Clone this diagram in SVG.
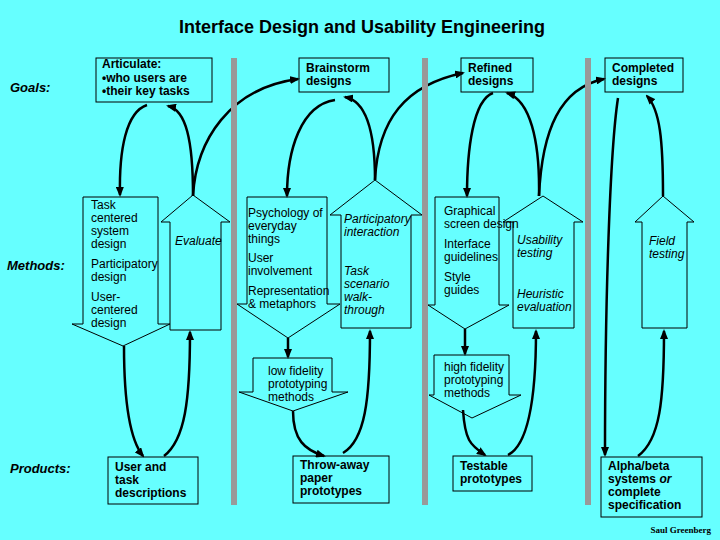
<svg xmlns="http://www.w3.org/2000/svg" width="720" height="540" viewBox="0 0 720 540">
<defs>
<marker id="ah" markerUnits="userSpaceOnUse" markerWidth="10" markerHeight="8" refX="8" refY="4" orient="auto">
<path d="M0,0 L10,4 L0,8 z" fill="#000"/>
</marker>
<style>
.bg{fill:#66FFFF}
.bar{fill:#999999}
.box{fill:#66FFFF;stroke:#000;stroke-width:1}
.shape{fill:#66FFFF;stroke:#000;stroke-width:1}
.con{fill:none;stroke:#000;stroke-width:2.5;marker-end:url(#ah)}
text{font-family:"Liberation Sans",Arial,sans-serif;font-size:12px;fill:#000}
.b{font-weight:bold}
.i{font-style:italic}
.lab{font-weight:bold;font-style:italic;font-size:13px}
.title{font-weight:bold;font-size:18px}
.sig{font-family:"Liberation Serif","Times New Roman",serif;font-size:9px;font-weight:bold}
</style>
</defs>
<rect class="bg" x="0" y="0" width="720" height="540"/>
<text class="title" x="362" y="33" text-anchor="middle">Interface Design and Usability Engineering</text>
<text class="lab" x="10" y="92">Goals:</text>
<text class="lab" x="7" y="270">Methods:</text>
<text class="lab" x="10" y="473">Products:</text>

<g id="goal-articulate"><rect class="box" x="96" y="58" width="116" height="44"/>
<text class="b" x="102" y="68">Articulate:</text><text class="b" x="102" y="82">•who users are</text><text class="b" x="102" y="95">•their key tasks</text></g>
<g id="goal-brainstorm"><rect class="box" x="299" y="58" width="90" height="34"/>
<text class="b" x="306" y="72">Brainstorm</text><text class="b" x="306" y="85">designs</text></g>
<g id="goal-refined"><rect class="box" x="461" y="58" width="72" height="34"/>
<text class="b" x="468" y="72">Refined</text><text class="b" x="468" y="85">designs</text></g>
<g id="goal-completed"><rect class="box" x="605" y="58" width="78" height="34"/>
<text class="b" x="612" y="72">Completed</text><text class="b" x="612" y="85">designs</text></g>

<g id="evaluate-1"><polygon class="shape" points="193,195 230,222 221,222 221,330 170,330 170,222 161,222"/>
<text class="i" x="175" y="245">Evaluate</text></g>
<g id="method-1"><polygon class="shape" points="83,197 158,197 158,324 170,324 123,346 72,324 83,324"/>
<text x="91" y="209">Task</text><text x="91" y="222">centered</text><text x="91" y="235">system</text><text x="91" y="248">design</text>
<text x="91" y="268">Participatory</text><text x="91" y="281">design</text>
<text x="91" y="301">User-</text><text x="91" y="314">centered</text><text x="91" y="327">design</text></g>

<g id="evaluate-2"><polygon class="shape" points="375,180 422,215 411,215 411,328 341,328 341,215 330,215"/>
<text class="i" x="344" y="223">Participatory</text><text class="i" x="344" y="236">interaction</text>
<text class="i" x="344" y="275">Task</text><text class="i" x="344" y="288">scenario</text><text class="i" x="344" y="301">walk-</text><text class="i" x="344" y="314">through</text></g>
<g id="method-2"><polygon class="shape" points="247,197 327,197 327,304 340,304 288,338 237,304 247,304"/>
<text x="248" y="217">Psychology of</text><text x="248" y="230">everyday</text><text x="248" y="243">things</text>
<text x="248" y="262">User</text><text x="248" y="275">involvement</text>
<text x="248" y="295">Representation</text><text x="248" y="308">&amp; metaphors</text></g>
<g id="lowfi"><polygon class="shape" points="253,358 332,358 332,392 348,392 293,411 239,392 253,392"/>
<text x="268" y="375">low fidelity</text><text x="268" y="388">prototyping</text><text x="268" y="401">methods</text></g>

<g id="evaluate-3"><polygon class="shape" points="543,196 583,222 574,222 574,328 513,328 513,222 503,222"/>
<text class="i" x="517" y="244">Usability</text><text class="i" x="517" y="257">testing</text>
<text class="i" x="517" y="298">Heuristic</text><text class="i" x="517" y="311">evaluation</text></g>
<g id="method-3"><polygon class="shape" points="435,197 499,197 499,305 509,305 465,329 428,305 435,305"/>
<text x="444" y="215">Graphical</text><text x="444" y="228">screen design</text>
<text x="444" y="248">Interface</text><text x="444" y="261">guidelines</text>
<text x="444" y="281">Style</text><text x="444" y="294">guides</text></g>
<g id="hifi"><polygon class="shape" points="434,355 509,355 509,395 521,395 472,418 429,395 434,395"/>
<text x="444" y="371">high fidelity</text><text x="444" y="384">prototyping</text><text x="444" y="397">methods</text></g>

<g id="evaluate-4"><polygon class="shape" points="663,196 694,222 687,222 687,328 642,328 642,222 635,222"/>
<text class="i" x="649" y="245">Field</text><text class="i" x="649" y="258">testing</text></g>

<g id="product-1"><rect class="box" x="108" y="457" width="90" height="47"/>
<text class="b" x="115" y="471">User and</text><text class="b" x="115" y="484">task</text><text class="b" x="115" y="497">descriptions</text></g>
<g id="product-2"><rect class="box" x="293" y="456" width="96" height="47"/>
<text class="b" x="300" y="469">Throw-away</text><text class="b" x="300" y="482">paper</text><text class="b" x="300" y="495">prototypes</text></g>
<g id="product-3"><rect class="box" x="453" y="456" width="79" height="35"/>
<text class="b" x="460" y="470">Testable</text><text class="b" x="460" y="483">prototypes</text></g>
<g id="product-4"><rect class="box" x="601" y="457" width="101" height="60"/>
<text class="b" x="608" y="470">Alpha/beta</text><text class="b" x="608" y="483">systems <tspan class="i">or</tspan></text><text class="b" x="608" y="496">complete</text><text class="b" x="608" y="509">specification</text></g>

<g id="connectors">
<path class="con" d="M147,105 C126,112 119,150 120,195"/>
<path class="con" d="M193,196 C193,140 186,110 168,106"/>
<path class="con" d="M193,196 C196,140 230,88 298,79"/>
<path class="con" d="M124,346 C124,400 130,440 143,456"/>
<path class="con" d="M164,456 C185,440 190,400 190,332"/>

<path class="con" d="M335,100 C301,105 287,150 287,196"/>
<path class="con" d="M375,180 C375,130 366,101 345,97"/>
<path class="con" d="M375,180 C378,120 405,85 463,73"/>
<path class="con" d="M288,338 L288,357"/>
<path class="con" d="M293,411 C293,440 305,450 324,456"/>
<path class="con" d="M343,453 C365,440 370,400 370,331"/>

<path class="con" d="M493,93 C473,100 467,150 467,196"/>
<path class="con" d="M539,196 C540,140 530,100 507,93"/>
<path class="con" d="M539,196 C542,130 560,88 604,79"/>
<path class="con" d="M465,329 L465,354"/>
<path class="con" d="M463,410 C465,440 470,445 485,455"/>
<path class="con" d="M508,455 C528,445 536,400 536,331"/>

<path class="con" d="M618,98 C610,150 605,300 605,455"/>
<path class="con" d="M663,196 C663,140 660,110 647,96"/>
<path class="con" d="M638,456 C660,440 664,400 664,331"/>
</g>

<g id="separators">
<rect class="bar" x="231" y="58" width="6" height="447"/>
<rect class="bar" x="422" y="58" width="6" height="447"/>
<rect class="bar" x="585" y="58" width="6" height="447"/>
</g>
<text class="sig" x="711" y="533" text-anchor="end">Saul Greenberg</text>
</svg>
